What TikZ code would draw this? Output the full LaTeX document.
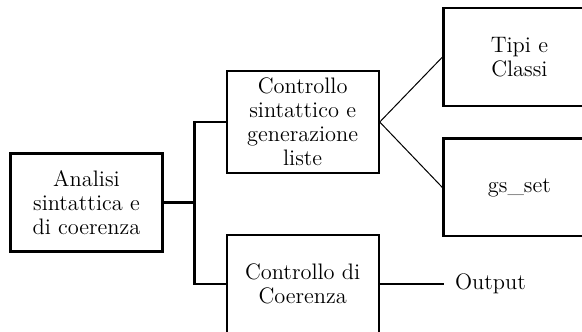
\documentclass[tikz,border=0pt]{standalone}
\usetikzlibrary{positioning,calc}

\begin{document}
\begin{tikzpicture}[
    node distance=1.09cm,
    every node/.style={font=\fontsize{11.2}{12}\selectfont},
    blocco/.style={rectangle, draw=black, line width=1.1pt, minimum width=2.67cm, minimum height=1.72cm, align=center},
    linea/.style={line width=1.1pt, color=black},
    ramo/.style={line width=0.5pt, color=black}
]

% Area visibile
\clip (-1.52,-2.258) rectangle (8.707,3.559);

% Blocchi
\node[blocco] (analisi) {Analisi\\sintattica e\\di coerenza};
\node[blocco, right=of analisi, yshift=1.415cm] (sintattico) {Controllo\\sintattico e\\generazione\\liste};
\node[blocco, right=of analisi, yshift=-1.43cm] (coerenza) {Controllo di\\Coerenza};
\node[blocco, right=1.1cm of sintattico, yshift=1.14cm] (tipi) {Tipi e\\Classi};
\node[blocco, right=1.1cm of sintattico, yshift=-1.15cm] (gsset) {gs\_set};

% Uscita
\node[right=1.125cm of coerenza, inner sep=5.5pt] (output) {Output};

% Collegamenti
\coordinate (nodo) at ($(analisi.east)!0.5!(analisi.east -| sintattico.west)$);
\draw[linea] (analisi.east) -- (nodo);
\draw[linea] (nodo) |- (sintattico.west);
\draw[linea] (nodo) |- (coerenza.west);
\draw[linea] (coerenza.east) -- (output.west);

% Rami verso le liste
\draw[ramo] (sintattico.east) -- (tipi.west);
\draw[ramo] (sintattico.east) -- (gsset.west);

\end{tikzpicture}
\end{document}
